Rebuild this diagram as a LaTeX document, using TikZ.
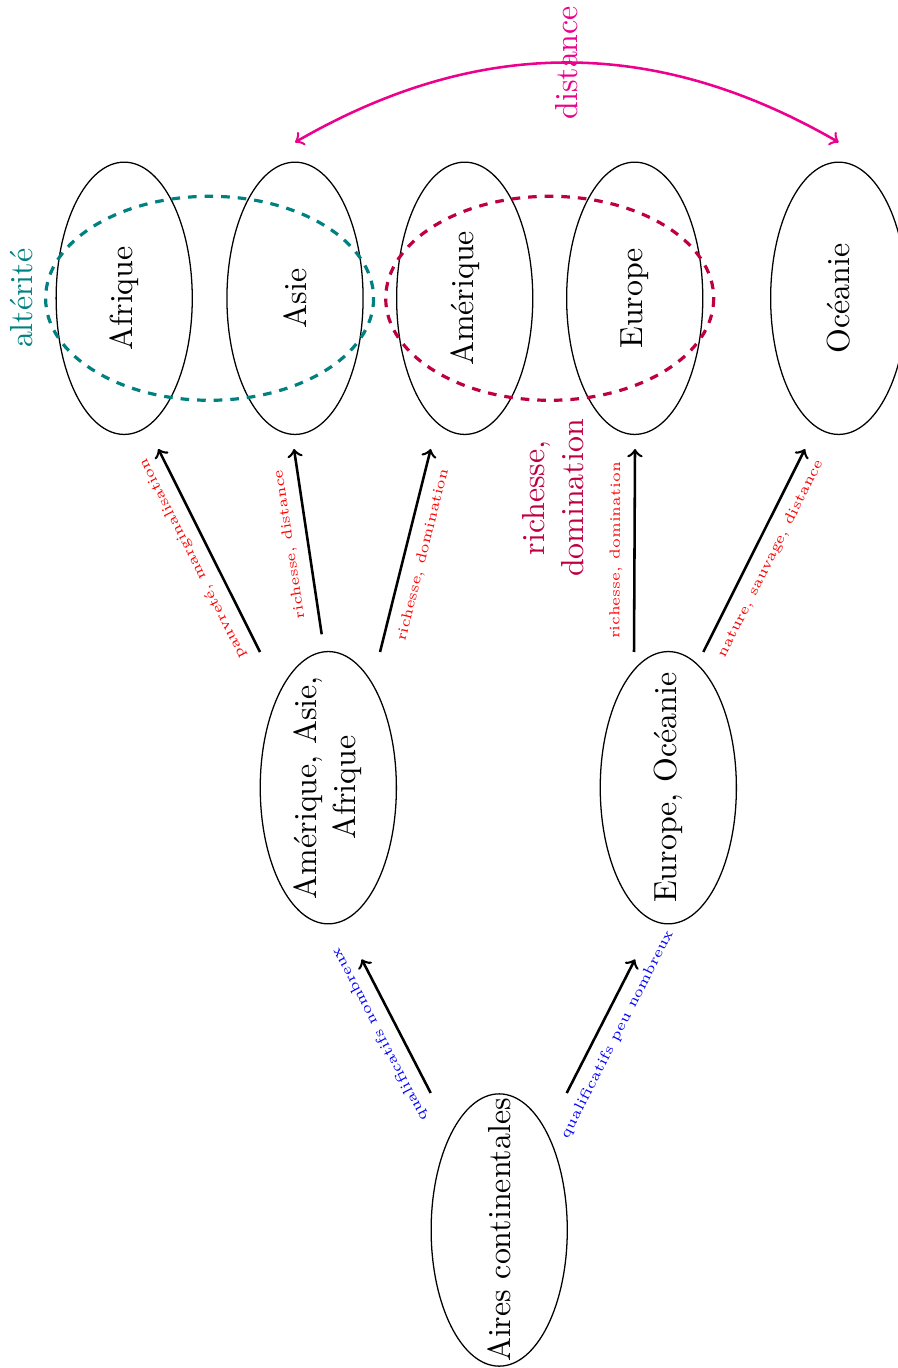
\documentclass[tikz,border=0pt]{standalone}
\usepackage{fontspec}
\usetikzlibrary{calc,shapes.geometric}
\definecolor{distrose}{RGB}{236,0,140}
\tikzset{
  aire/.style={draw, ellipse, rotate=90, minimum width=3cm, minimum height=1.5cm, inner sep=0pt},
  fleche/.style={thick, ->},
  qualif/.style={midway, sloped, allow upside down, font=\fontsize{4.55}{5.5}\selectfont},
  groupe/.style={line width=1pt, dash pattern=on 2.7pt off 2.5pt},
}

\begin{document}
\begin{tikzpicture}[x=0.11019mm, y=-0.11019mm]
			%%%%% START %%%%%
			
			\useasboundingbox (0, 0) rectangle (898, 1368);
			
			% continents
			\node[aire] (afr) at (124.2, 298.3) {\makebox[0pt]{Afrique}};
			\node[aire] (asie) at (295, 298.3) {\makebox[0pt]{Asie}};
			\node[aire] (amer) at (464.7, 298.3) {\makebox[0pt]{Amérique}};
			\node[aire] (eur) at (634.7, 298.3) {\makebox[0pt]{Europe}};
			\node[aire] (oce) at (838.7, 298.3) {\makebox[0pt]{Océanie}};
			
			% regroupements
			\node[aire] (aaa) at (328.3, 787.7) {\makebox[0pt]{\begin{tabular}{@{}c@{}}Amérique, Asie,\\Afrique\end{tabular}}};
			\node[aire] (eo) at (668.3, 787.7) {\makebox[0pt]{Europe, Océanie}};
			\node[aire] (aires) at (499.2, 1230) {\makebox[0pt]{Aires continentales}};
			
			\draw[fleche] ($(aires)+(-68.5, -137)$) -- node[qualif, above, blue] {qualificatifs nombreux} ($(aaa)+(33.4, 171.6)$);
			\draw[fleche] ($(aires)+(67.5, -137)$) -- node[qualif, below, blue] {qualificatifs peu nombreux} ($(eo)+(-33.3, 171.6)$);
			
			\draw[fleche] ($(aaa)+(-68.3, -135.7)$) -- node[qualif, above, red] {pauvreté, marginalisation} ($(afr)+(34.1, 150.7)$);
			\draw[fleche] ($(aaa)+(-6.6, -153.4)$) -- node[qualif, above, red] {richesse, distance} ($(asie)+(-1, 150.7)$);
			\draw[fleche] ($(aaa)+(51.7, -135.7)$) -- node[qualif, below, red] {richesse, domination} ($(amer)+(-34, 150.7)$);
			\draw[fleche] ($(eo)+(-34.3, -135.7)$) -- node[qualif, above, red] {richesse, domination} ($(eur)+(0.3, 150.7)$);
			\draw[fleche] ($(eo)+(35, -135.7)$) -- node[qualif, below, red] {nature, sauvage, distance} ($(oce)+(-33.7, 150.7)$);
			
			% groupes
			\draw[teal, groupe] ($(afr)!0.5!(asie)$) ellipse (164 and 102);
			\draw[purple, groupe] ($(amer)!0.5!(eur)$) ellipse (164 and 102);
			\node[rotate=90, teal] (alt) at (22, 298.3) {altérité};
			\node[rotate=90, purple, align=center] (richdom) at (553, 498) {richesse,\\domination};
			
			\draw[thick, distrose, <->] ($(asie)+(0, -156)$) to[bend left=30] node[midway, rotate=90] (dist) {distance} ($(oce)+(0, -156)$);
			
			%%%%% END %%%%%
		\end{tikzpicture}
\end{document}
